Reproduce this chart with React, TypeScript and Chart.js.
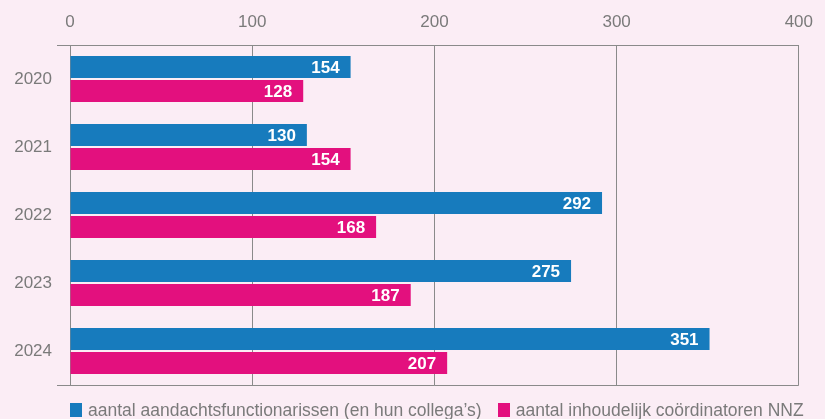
import React, { useEffect, useRef } from "react";
import { Chart, registerables } from "chart.js";

Chart.register(...registerables);

const years = ["2020", "2021", "2022", "2023", "2024"];
const functionarissen = [154, 130, 292, 275, 351];
const coordinatoren = [128, 154, 168, 187, 207];
const xTicks = [0, 100, 200, 300, 400];
const seriesNames = [
  "aantal aandachtsfunctionarissen (en hun collega’s)",
  "aantal inhoudelijk coördinatoren NNZ",
];

const BLUE = "#177bbd";
const PINK = "#e3107e";
const BG = "#fbedf5";
const GRID = "#8a8a8a";
const TEXT = "#7a7a7a";
const FONT = "'Liberation Sans', Arial, Helvetica, sans-serif";

const valueLabels = {
  id: "valueLabels",
  afterDatasetsDraw(chart: any) {
    const ctx = chart.ctx;
    ctx.save();
    ctx.fillStyle = "#ffffff";
    ctx.font = `bold 17px ${FONT}`;
    ctx.textAlign = "right";
    ctx.textBaseline = "middle";
    chart.data.datasets.forEach((ds: any, di: number) => {
      const meta = chart.getDatasetMeta(di);
      meta.data.forEach((el: any, i: number) => {
        ctx.fillText(String(ds.data[i]), el.x - 11, el.y + 1);
      });
    });
    ctx.restore();
  },
};

export default function App() {
  const ref = useRef<HTMLCanvasElement>(null);
  useEffect(() => {
    const chart = new Chart(ref.current!, {
      type: "bar",
      data: {
        labels: years,
        datasets: [
          { label: seriesNames[0], data: functionarissen, backgroundColor: BLUE, categoryPercentage: 0.706, barPercentage: 0.917 },
          { label: seriesNames[1], data: coordinatoren, backgroundColor: PINK, categoryPercentage: 0.706, barPercentage: 0.917 },
        ],
      },
      plugins: [valueLabels],
      options: {
        indexAxis: "y",
        animation: false,
        responsive: false,
        layout: { padding: { top: 11, left: 8, right: 18, bottom: 34 } },
        plugins: { legend: { display: false }, tooltip: { enabled: false } },
        scales: {
          x: {
            position: "top",
            min: 0,
            max: 400,
            afterBuildTicks: (scale: any) => {
              scale.ticks = xTicks.map((v) => ({ value: v }));
            },
            afterFit: (scale: any) => {
              scale.height = 34;
            },
            grid: { color: GRID, lineWidth: 1, drawTicks: false },
            border: { display: true, color: GRID, width: 1 },
            ticks: { color: TEXT, font: { family: FONT, size: 17 }, padding: 12 },
          },
          y: {
            afterFit: (scale: any) => {
              scale.width = 62;
            },
            grid: {
              offset: true,
              drawTicks: true,
              tickLength: 13,
              lineWidth: 1,
              color: (ctx: any) => (ctx.type === "scale" || ctx.index === 0 ? GRID : "rgba(0,0,0,0)"),
            },
            border: { display: true, color: GRID, width: 1 },
            ticks: { color: TEXT, font: { family: FONT, size: 17 }, padding: 5 },
          },
        },
      },
    });
    return () => chart.destroy();
  }, []);

  const item = (color: string, text: string, mr: number) => (
    <div style={{ display: "flex", alignItems: "center", marginRight: mr }}>
      <div style={{ width: 12, height: 14, background: color, marginRight: 6 }} />
      <span>{text}</span>
    </div>
  );

  return (
    <div style={{ position: "absolute", left: 0, top: 0, width: 825, height: 419, background: BG, overflow: "hidden" }}>
      <canvas ref={ref} width={825} height={419} style={{ display: "block" }} />
      <div
        style={{
          position: "absolute",
          left: 70,
          top: 401,
          display: "flex",
          fontFamily: FONT,
          fontSize: 17.5,
          color: TEXT,
          lineHeight: "18px",
          whiteSpace: "nowrap",
        }}
      >
        {item(BLUE, seriesNames[0], 16)}
        {item(PINK, seriesNames[1], 0)}
      </div>
    </div>
  );
}
